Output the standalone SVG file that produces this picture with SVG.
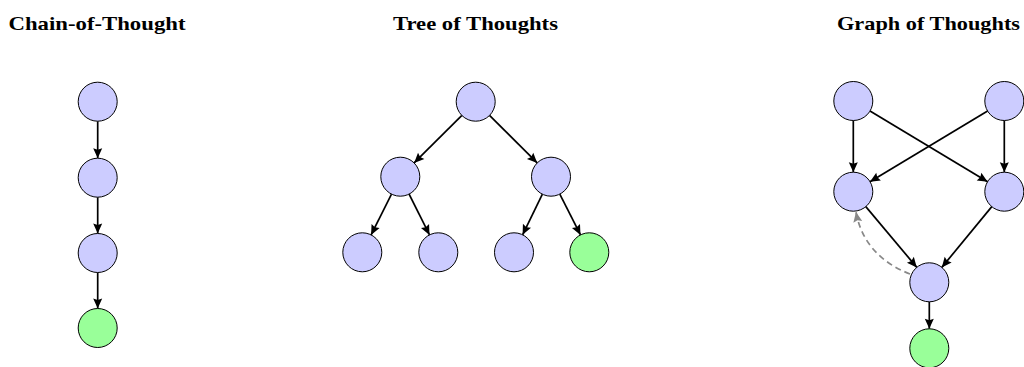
<svg xmlns="http://www.w3.org/2000/svg" width="1024" height="367" viewBox="0 0 1024 367">
<style>
.t{font-family:"Liberation Serif","DejaVu Serif",serif;font-weight:bold;font-size:19px;fill:#000;text-anchor:middle}
.n{fill:#ccccff;stroke:#000;stroke-width:1}
.g{fill:#99ff99;stroke:#000;stroke-width:1}
.e{stroke:#000;stroke-width:1.7;fill:none;marker-end:url(#ah)}
.d{stroke:#888;stroke-width:1.7;fill:none;stroke-dasharray:6,4;marker-end:url(#ag)}
</style>
<defs>
<marker id="ah" markerUnits="userSpaceOnUse" markerWidth="12" markerHeight="10" refX="10" refY="4.5" orient="auto" overflow="visible">
<path d="M0,0 L10,4.5 L0,9 L1.5,4.5 z" fill="#000"/>
</marker>
<marker id="ag" markerUnits="userSpaceOnUse" markerWidth="12" markerHeight="10" refX="10" refY="4.5" orient="auto" overflow="visible">
<path d="M0,0 L10,4.5 L0,9 L1.5,4.5 z" fill="#888"/>
</marker>
</defs>
<rect width="1024" height="367" fill="#fff"/>
<text class="t" x="97" y="30" textLength="177" lengthAdjust="spacingAndGlyphs">Chain-of-Thought</text>
<text class="t" x="475.5" y="30" textLength="165" lengthAdjust="spacingAndGlyphs">Tree of Thoughts</text>
<text class="t" x="928.5" y="30" textLength="183" lengthAdjust="spacingAndGlyphs">Graph of Thoughts</text>
<g id="connectors">
<line class="e" x1="97.7" y1="121.2" x2="97.7" y2="158.2"/>
<line class="e" x1="97.7" y1="197.2" x2="97.7" y2="233.5"/>
<line class="e" x1="97.7" y1="272.5" x2="97.7" y2="308.5"/>
<line class="e" x1="461.9" y1="115.4" x2="414.1" y2="162.9"/>
<line class="e" x1="489.5" y1="115.4" x2="537.2" y2="162.9"/>
<line class="e" x1="391.5" y1="194.1" x2="371.1" y2="234.9"/>
<line class="e" x1="409.1" y1="194.1" x2="429.5" y2="234.9"/>
<line class="e" x1="542.4" y1="194.2" x2="522.6" y2="234.8"/>
<line class="e" x1="559.8" y1="194.1" x2="580.5" y2="234.9"/>
<line class="e" x1="853.3" y1="120.5" x2="853.3" y2="172.2"/>
<line class="e" x1="1004.3" y1="120.5" x2="1004.3" y2="172.2"/>
<line class="e" x1="870.0" y1="111.0" x2="987.6" y2="181.7"/>
<line class="e" x1="987.6" y1="111.0" x2="870.0" y2="181.7"/>
<line class="e" x1="865.8" y1="206.6" x2="916.8" y2="267.4"/>
<line class="e" x1="991.8" y1="206.6" x2="941.8" y2="267.4"/>
<line class="e" x1="929.3" y1="301.8" x2="929.3" y2="328.8"/>
<path class="d" d="M910,274 Q864,256 856,212"/>
</g>
<g id="cot1"><circle class="n" cx="97.7" cy="101.7" r="19.5"/></g>
<g id="cot2"><circle class="n" cx="97.7" cy="177.7" r="19.5"/></g>
<g id="cot3"><circle class="n" cx="97.7" cy="253" r="19.5"/></g>
<g id="cot4"><circle class="g" cx="97.7" cy="328" r="19.5"/></g>
<g id="tot_root"><circle class="n" cx="475.7" cy="101.7" r="19.5"/></g>
<g id="tot_l"><circle class="n" cx="400.3" cy="176.7" r="19.5"/></g>
<g id="tot_r"><circle class="n" cx="551" cy="176.7" r="19.5"/></g>
<g id="tot_ll"><circle class="n" cx="362.3" cy="252.3" r="19.5"/></g>
<g id="tot_lr"><circle class="n" cx="438.3" cy="252.3" r="19.5"/></g>
<g id="tot_rl"><circle class="n" cx="514" cy="252.3" r="19.5"/></g>
<g id="tot_rr"><circle class="g" cx="589.3" cy="252.3" r="19.5"/></g>
<g id="got_tl"><circle class="n" cx="853.3" cy="101" r="19.5"/></g>
<g id="got_tr"><circle class="n" cx="1004.3" cy="101" r="19.5"/></g>
<g id="got_ml"><circle class="n" cx="853.3" cy="191.7" r="19.5"/></g>
<g id="got_mr"><circle class="n" cx="1004.3" cy="191.7" r="19.5"/></g>
<g id="got_b"><circle class="n" cx="929.3" cy="282.3" r="19.5"/></g>
<g id="got_g"><circle class="g" cx="929.3" cy="348.3" r="19.5"/></g>
</svg>
